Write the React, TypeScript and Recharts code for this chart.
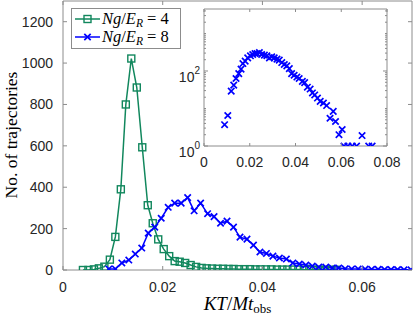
import { ComposedChart, Line, Scatter, XAxis, YAxis, ReferenceArea } from "recharts";

// Ng/E_R = 4 (green squares)
const greenX = [0.0040, 0.0051, 0.0062, 0.0072, 0.0083, 0.0094, 0.0105, 0.0116, 0.0126, 0.0137, 0.0148, 0.0159, 0.0170, 0.0180, 0.0191, 0.0202, 0.0213, 0.0224, 0.0234, 0.0245, 0.0256, 0.0267, 0.0278, 0.0288, 0.0299, 0.0310, 0.0321, 0.0332, 0.0342, 0.0353, 0.0364, 0.0375, 0.0386, 0.0396, 0.0407, 0.0418, 0.0429, 0.0440, 0.0450, 0.0461, 0.0472, 0.0483, 0.0494, 0.0504, 0.0515, 0.0526, 0.0537, 0.0548];
const greenY = [0, 0, 3, 8, 16, 50, 160, 390, 800, 1022, 882, 593, 313, 226, 148, 101, 67, 43, 40, 34, 24, 15, 10, 8, 7, 6, 6, 5, 5, 4, 4, 4, 3, 3, 3, 3, 2, 2, 2, 2, 2, 1, 1, 1, 1, 1, 1, 1];

// Ng/E_R = 8 (blue crosses)
const blueX = [0.0092, 0.0105, 0.0118, 0.0132, 0.0145, 0.0158, 0.0171, 0.0184, 0.0197, 0.0211, 0.0224, 0.0237, 0.0250, 0.0263, 0.0276, 0.0290, 0.0303, 0.0316, 0.0329, 0.0342, 0.0355, 0.0369, 0.0382, 0.0395, 0.0408, 0.0421, 0.0434, 0.0448, 0.0461, 0.0474, 0.0487, 0.0500, 0.0513, 0.0527, 0.0540, 0.0553, 0.0566, 0.0579, 0.0592, 0.0606, 0.0619, 0.0632, 0.0645, 0.0658, 0.0671, 0.0684, 0.0698];
const blueY = [5, 5, 34, 48, 77, 106, 178, 207, 250, 303, 323, 323, 350, 286, 323, 272, 258, 226, 236, 207, 159, 149, 120, 87, 80, 67, 58, 53, 34, 29, 24, 19, 14, 14, 10, 10, 6, 5, 5, 4, 3, 3, 2, 2, 2, 1, 1];

// inset, log scale
const insetX = [0.0090, 0.0104, 0.0119, 0.0130, 0.0140, 0.0152, 0.0162, 0.0170, 0.0180, 0.0191, 0.0203, 0.0213, 0.0223, 0.0232, 0.0242, 0.0252, 0.0264, 0.0275, 0.0286, 0.0296, 0.0307, 0.0319, 0.0329, 0.0340, 0.0351, 0.0362, 0.0373, 0.0383, 0.0394, 0.0406, 0.0416, 0.0430, 0.0440, 0.0452, 0.0464, 0.0474, 0.0484, 0.0496, 0.0508, 0.0522, 0.0536, 0.0551, 0.0565, 0.0575, 0.0590, 0.0604, 0.0612, 0.0629, 0.0648, 0.0667, 0.0691, 0.0720, 0.0735];
const insetY = [3.7, 6.5, 29, 42, 63, 85, 112, 158, 183, 224, 254, 275, 293, 293, 311, 275, 265, 254, 224, 239, 224, 207, 195, 168, 149, 137, 116, 85, 77, 69, 63, 53, 49, 37, 33, 26, 23, 19, 15.5, 14, 12, 5.5, 8.4, 4.5, 2, 2.75, 1, 1, 1, 1, 1.9, 1, 1];

const xTicks = [0, 0.02, 0.04, 0.06];
const xTickLabels = ["0", "0.02", "0.04", "0.06"];
const yTicks = [0, 200, 400, 600, 800, 1000, 1200];
const insetXTicks = [0, 0.02, 0.04, 0.06, 0.08];
const insetXLabels = ["0", "0.02", "0.04", "0.06", "0.08"];
const insetYTicks = [1, 2, 3, 4, 5, 6, 7, 8, 9, 10, 20, 30, 40, 50, 60, 70, 80, 90, 100, 200, 300, 400, 500, 600, 700, 800, 900, 1000, 2000, 3000, 4000];
const insetYMajor: Record<number, string> = { 1: "0", 100: "2" };

const green = "#11875d";
const blue = "#0000ff";
const axisGray = "#8c8c8c";
const tickText = "#262626";
const sans = "'Liberation Sans', Arial, sans-serif";
const serif = "'Liberation Serif', 'DejaVu Serif', serif";

const greenData = greenX.map((x, i) => ({ x, y: greenY[i] }));
const blueData = blueX.map((x, i) => ({ x, y: blueY[i] }));
const insetData = insetX.map((x, i) => ({ x, y: insetY[i] }));

// plot boxes (layout)
const M = { left: 63, right: 412, top: 1, bottom: 270 };
const I = { left: 204, right: 387, top: 9, bottom: 146 };

const Square = ({ cx, cy, color }: any) => (
  <rect x={cx - 3.5} y={cy - 3.5} width={7} height={7} fill="none" stroke={color} strokeWidth={1.4} />
);
const Cross = ({ cx, cy, color }: any) => (
  <path d={`M${cx - 3.2},${cy - 3.2}L${cx + 3.2},${cy + 3.2}M${cx - 3.2},${cy + 3.2}L${cx + 3.2},${cy - 3.2}`} stroke={color} strokeWidth={1.7} fill="none" />
);

const MainXTick = ({ x, payload, index }: any) => (
  <g>
    <line x1={x} x2={x} y1={M.bottom} y2={M.bottom - 4} stroke={axisGray} />
    <line x1={x} x2={x} y1={M.top} y2={M.top + 4} stroke={axisGray} />
    <text x={x} y={M.bottom + 22} textAnchor="middle" fontFamily={sans} fontSize={14} fill={tickText}>
      {xTickLabels[index] ?? payload.value}
    </text>
  </g>
);

const MainYTick = ({ y, payload }: any) => (
  <g>
    <line x1={M.left} x2={M.left + 4} y1={y} y2={y} stroke={axisGray} />
    <line x1={M.right} x2={M.right - 4} y1={y} y2={y} stroke={axisGray} />
    <text x={M.left - 10} y={y + 5} textAnchor="end" fontFamily={sans} fontSize={14} fill={tickText}>
      {payload.value}
    </text>
  </g>
);

const InsetXTick = ({ x, index }: any) => (
  <g>
    <line x1={x} x2={x} y1={I.bottom} y2={I.bottom - 3} stroke={axisGray} />
    <line x1={x} x2={x} y1={I.top} y2={I.top + 3} stroke={axisGray} />
    <text x={x} y={I.bottom + 21} textAnchor="middle" fontFamily={sans} fontSize={14} fill={tickText}>
      {insetXLabels[index]}
    </text>
  </g>
);

const InsetYTick = ({ y, payload }: any) => {
  const exp = insetYMajor[payload.value];
  const len = exp !== undefined ? 4 : 2;
  return (
    <g>
      <line x1={I.left} x2={I.left + len} y1={y} y2={y} stroke={axisGray} />
      <line x1={I.right} x2={I.right - len} y1={y} y2={y} stroke={axisGray} />
      {exp !== undefined && (
        <text x={I.left - 4} y={y + 11} textAnchor="end" fontFamily={sans} fontSize={14} fill={tickText}>
          10<tspan fontSize={10} dy={-8}>{exp}</tspan>
        </text>
      )}
    </g>
  );
};

export default function App() {
  return (
    <div style={{ position: "absolute", left: 0, top: 0, width: 415, height: 317, background: "#fff" }}>
      <div style={{ position: "absolute", left: 0, top: 0 }}>
        <ComposedChart width={415} height={317} margin={{ top: M.top, right: 415 - M.right, bottom: 0, left: 0 }}>
          <XAxis type="number" dataKey="x" domain={[0, 0.07]} ticks={xTicks} interval={0} height={317 - M.bottom}
            tick={(p: any) => <MainXTick {...p} />} tickLine={false} axisLine={false} allowDataOverflow />
          <YAxis type="number" domain={[0, 1300]} ticks={yTicks} interval={0} width={M.left}
            tick={(p: any) => <MainYTick {...p} />} tickLine={false} axisLine={false} allowDataOverflow />
          <ReferenceArea x1={0} x2={0.07} y1={0} y2={1300} fill="none" stroke={axisGray} strokeWidth={1} ifOverflow="visible" />
          <Line data={greenData} dataKey="y" stroke={green} strokeWidth={1.5} isAnimationActive={false}
            dot={(p: any) => <Square key={`g${p.index}`} cx={p.cx} cy={p.cy} color={green} />} />
          <Line data={blueData} dataKey="y" stroke={blue} strokeWidth={1.5} isAnimationActive={false}
            dot={(p: any) => <Cross key={`b${p.index}`} cx={p.cx} cy={p.cy} color={blue} />} />
        </ComposedChart>
      </div>

      <div style={{ position: "absolute", left: 0, top: 0 }}>
        <ComposedChart width={415} height={317}
          margin={{ top: I.top, right: 415 - I.right, bottom: 317 - I.bottom - 30, left: I.left - 40 }}>
          <XAxis type="number" dataKey="x" domain={[0, 0.08]} ticks={insetXTicks} interval={0} height={30}
            tick={(p: any) => <InsetXTick {...p} />} tickLine={false} axisLine={false} allowDataOverflow />
          <YAxis type="number" dataKey="y" scale="log" domain={[1, 4500]} ticks={insetYTicks} interval={0} width={40}
            tick={(p: any) => <InsetYTick {...p} />} tickLine={false} axisLine={false} allowDataOverflow />
          <ReferenceArea x1={0} x2={0.08} y1={1} y2={4500} fill="#fff" fillOpacity={1} stroke={axisGray} ifOverflow="visible" />
          <Scatter data={insetData} isAnimationActive={false}
            shape={(p: any) => <Cross cx={p.cx} cy={p.cy} color={blue} />} />
        </ComposedChart>
      </div>

      <svg width={415} height={317} style={{ position: "absolute", left: 0, top: 0, pointerEvents: "none" }}>
        <rect x={71.5} y={8.5} width={109} height={40} fill="#fff" stroke={axisGray} />
        <line x1={75} x2={100} y1={19} y2={19} stroke={green} strokeWidth={1.5} />
        <Square cx={87.5} cy={19} color={green} />
        <line x1={75} x2={100} y1={37} y2={37} stroke={blue} strokeWidth={1.5} />
        <Cross cx={87.5} cy={37} color={blue} />
        <text x={102} y={24} fontFamily={serif} fontSize={16.5} fill="#000">
          <tspan fontStyle="italic">Ng</tspan>/<tspan fontStyle="italic">E</tspan>
          <tspan fontStyle="italic" fontSize={11.5} dy={2.5}>R</tspan>
          <tspan dy={-2.5}> = 4</tspan>
        </text>
        <text x={102} y={42} fontFamily={serif} fontSize={16.5} fill="#000">
          <tspan fontStyle="italic">Ng</tspan>/<tspan fontStyle="italic">E</tspan>
          <tspan fontStyle="italic" fontSize={11.5} dy={2.5}>R</tspan>
          <tspan dy={-2.5}> = 8</tspan>
        </text>
        <text x={237.5} y={310} textAnchor="middle" fontFamily={serif} fontSize={19} fill="#000">
          <tspan fontStyle="italic">KT</tspan>/<tspan fontStyle="italic">Mt</tspan>
          <tspan fontSize={13} dy={3}>obs</tspan>
        </text>
        <text transform="translate(17,135) rotate(-90)" textAnchor="middle" fontFamily={serif} fontSize={17.5} fill="#000">
          No. of trajectories
        </text>
      </svg>
    </div>
  );
}
